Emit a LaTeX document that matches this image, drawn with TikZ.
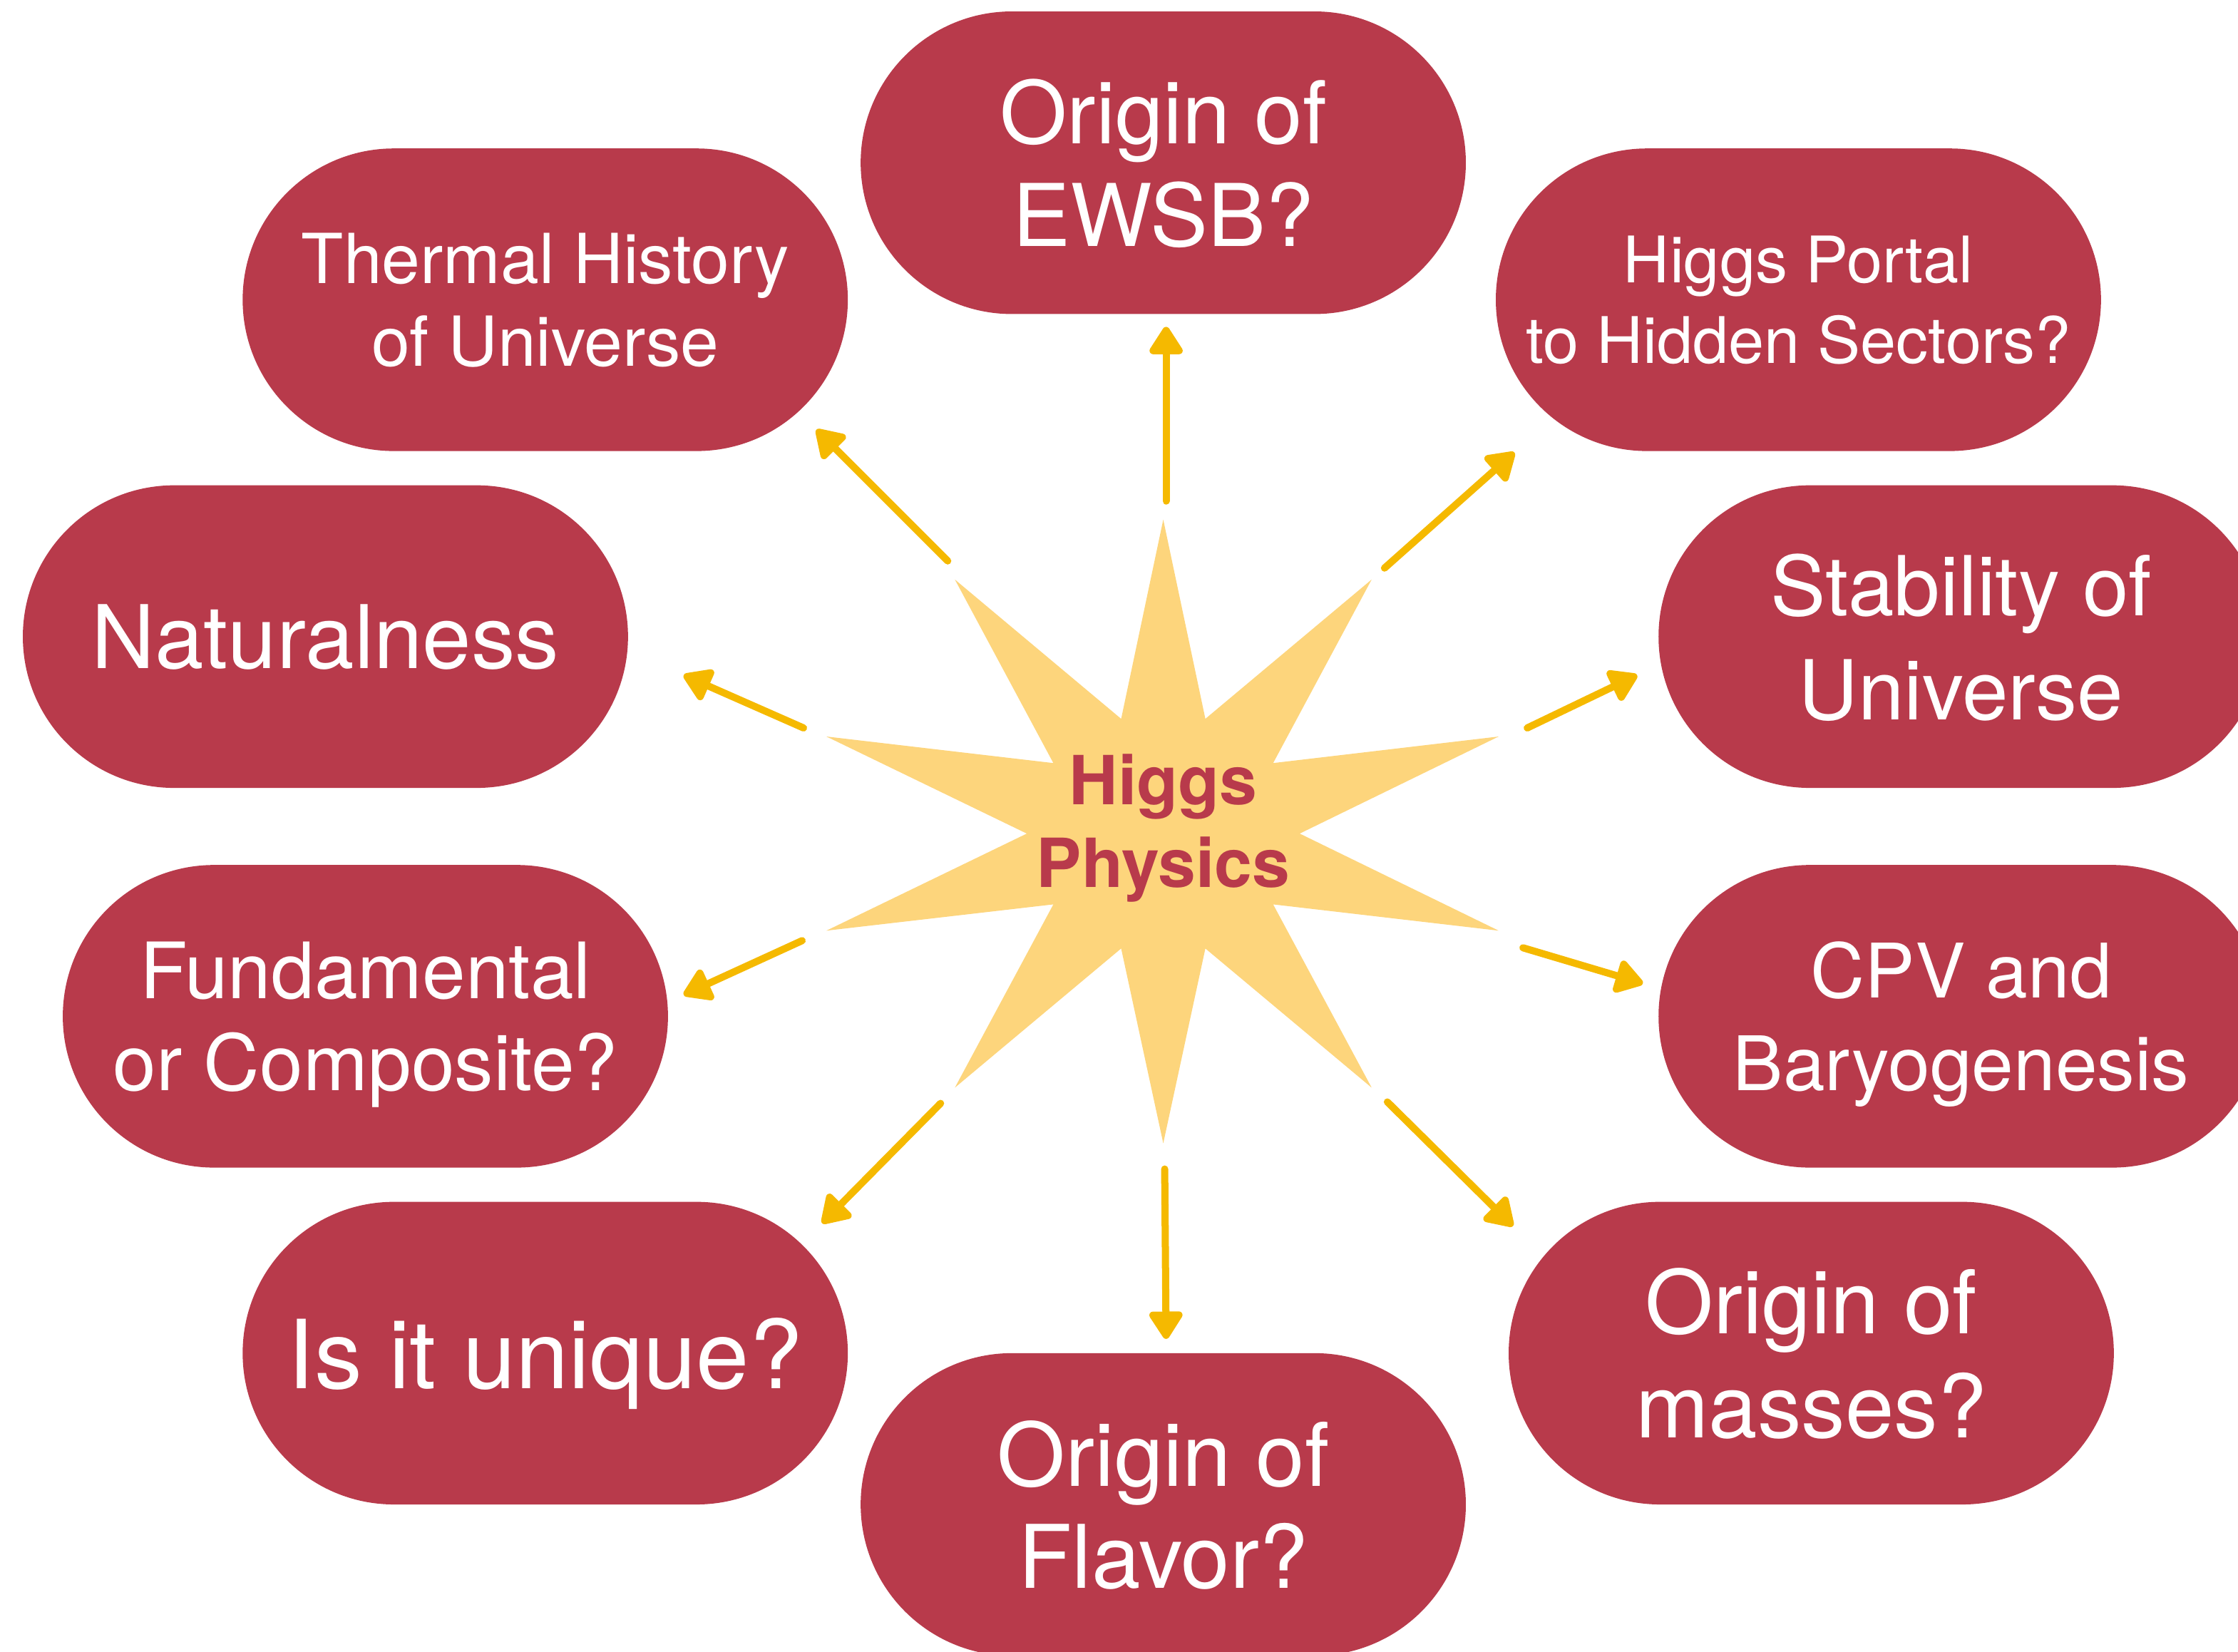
\documentclass[tikz,border=0pt]{standalone}
\usepackage{fontspec}
\setmainfont{TeX Gyre Heros}
\usepackage{xcolor}
\usepackage{tikz}
\usetikzlibrary{arrows.meta,shapes.misc}

\definecolor{higgsred}{RGB}{184,58,75}
\definecolor{starfill}{RGB}{253,213,124}
\definecolor{arrowgold}{RGB}{245,185,0}

\begin{document}
\begin{tikzpicture}[x=0.2mm,y=-0.2mm,>={Triangle[length=4.3mm,width=5.2mm,round]},
		line cap=round]
		\tikzstyle{pill}=[rounded rectangle,fill=higgsred,text=white,minimum width=84.8mm,
			minimum height=42.4mm,inner sep=0pt,align=center,text depth=0pt]
		\tikzstyle{link}=[->,arrowgold,line width=1mm]

		\clip (0,0) rectangle (1568,1157);

		% the star in the middle
		\fill[starfill,shift={(815,584)}] (0,-220) -- (29.5,-80.4) -- (146,-178) -- (77,-49.4)
			-- (235,-68) -- (95.6,0) -- (235,68) -- (77,49.6) -- (146,178) -- (29.5,80.5)
			-- (0,217) -- (-29.5,80.5) -- (-146,178) -- (-77,49.6) -- (-236,68) -- (-95.6,0)
			-- (-236,-68) -- (-77,-49.4) -- (-146,-178) -- (-29.5,-80.4) -- cycle;
		\node (hub) at (815,580) [text=higgsred,align=center,
			font=\bfseries\fontsize{27}{33}\selectfont] {Higgs\\Physics};

		\node[pill] (ewsb)      at (815,114)  [font=\fontsize{34.5}{41}\selectfont] {Origin of\\EWSB?};
		\node[pill] (thermal)   at (382,210)  [font=\fontsize{27.5}{33}\selectfont] {Thermal History\\of Universe};
		\node[pill] (portal)    at (1260,210) [font=\fontsize{25.6}{32}\selectfont] {Higgs Portal\\to Hidden Sectors?};
		\node[pill] (natural)   at (228,446)  [font=\fontsize{35}{41}\selectfont]   {Naturalness};
		\node[pill] (stability) at (1374,446) [font=\fontsize{33}{41.5}\selectfont] {Stability of\\Universe};
		\node[pill] (composite) at (256,712)  [font=\fontsize{31}{36.5}\selectfont] {Fundamental\\or Composite?};
		\node[pill] (cpv)       at (1374,712) [font=\fontsize{30}{37}\selectfont]   {CPV and\\Baryogenesis};
		\node[pill] (unique)    at (382,948)  [font=\fontsize{38}{44}\selectfont]   {Is it unique?};
		\node[pill] (masses)    at (1269,948) [font=\fontsize{35}{41.5}\selectfont] {Origin of\\masses?};
		\node[pill] (flavor)    at (815,1054) [font=\fontsize{35}{40.5}\selectfont] {Origin of\\Flavor?};

		% arrow ends
		\coordinate (ewsb-s)      at (817,351);  \coordinate (ewsb-e)      at (817,229);
		\coordinate (thermal-s)   at (664,393);  \coordinate (thermal-e)   at (572,301);
		\coordinate (portal-s)    at (970,398);  \coordinate (portal-e)    at (1061,317);
		\coordinate (natural-s)   at (563,510);  \coordinate (natural-e)   at (479,473);
		\coordinate (stability-s) at (1070,510); \coordinate (stability-e) at (1147,473);
		\coordinate (composite-s) at (562,659);  \coordinate (composite-e) at (479,697);
		\coordinate (cpv-s)       at (1067,664); \coordinate (cpv-e)       at (1151,689);
		\coordinate (unique-s)    at (659,773);  \coordinate (unique-e)    at (576,857);
		\coordinate (flavor-s)    at (816,819);  \coordinate (flavor-e)    at (817,938);
		\coordinate (masses-s)    at (972,772);  \coordinate (masses-e)    at (1060,859);

		\path[link]
		(ewsb-s)      edge (ewsb-e)
		(thermal-s)   edge (thermal-e)
		(portal-s)    edge (portal-e)
		(natural-s)   edge (natural-e)
		(stability-s) edge (stability-e)
		(composite-s) edge (composite-e)
		(cpv-s)       edge (cpv-e)
		(unique-s)    edge (unique-e)
		(flavor-s)    edge (flavor-e)
		(masses-s)    edge (masses-e);

\end{tikzpicture}
\end{document}
